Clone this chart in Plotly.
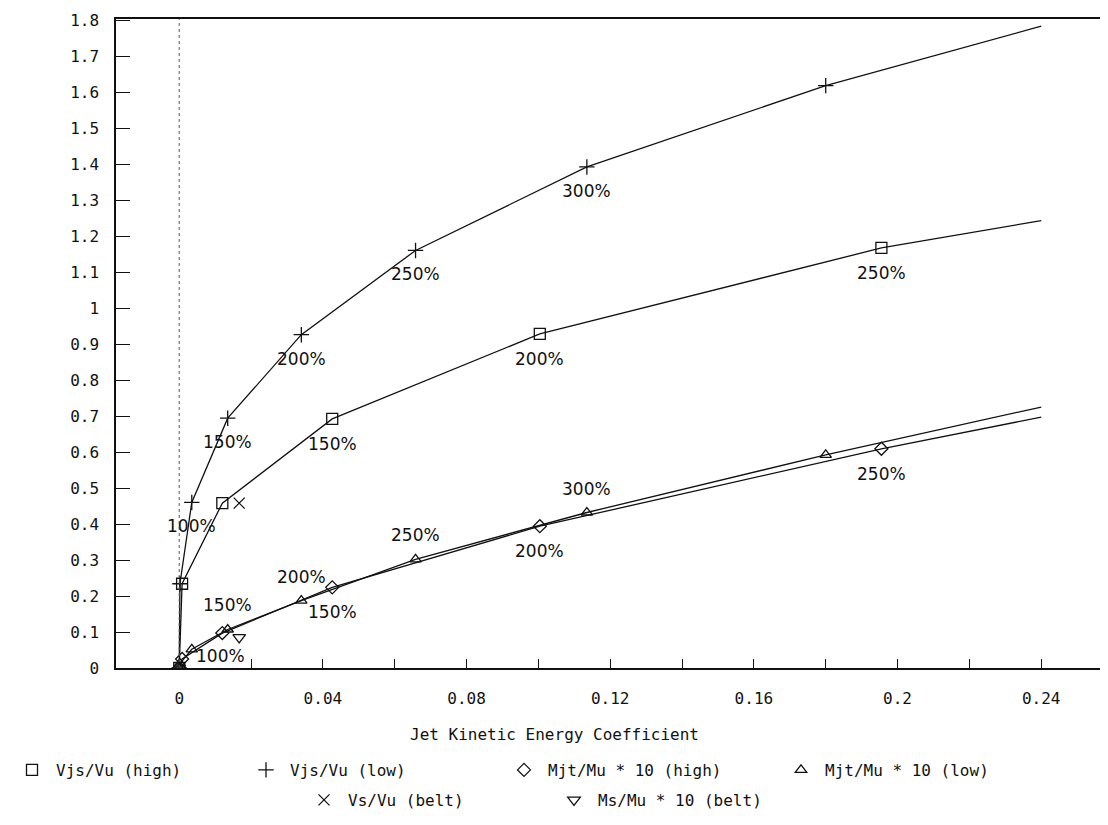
import plotly.graph_objects as go

# Jet kinetic energy coefficient (x) for the two test series
x_high = [0, 0.0008, 0.012, 0.0426, 0.1004, 0.1955, 0.24]
x_low = [0, 0.0002, 0.0035, 0.0135, 0.034, 0.0658, 0.1135, 0.18, 0.24]

vjs_high = [0, 0.234, 0.458, 0.692, 0.928, 1.167, 1.243]
mjt_high = [0, 0.025, 0.097, 0.224, 0.394, 0.609, 0.697]
vjs_low = [0, 0.234, 0.46, 0.694, 0.926, 1.16, 1.392, 1.618, 1.783]
mjt_low = [0, 0.012, 0.052, 0.107, 0.187, 0.302, 0.432, 0.592, 0.725]

x_belt = [0.0167]
vs_belt = [0.458]
ms_belt = [0.085]

# percentage labels at the points
lab_vjs_high = ["", "", "", "150%", "200%", "250%", ""]
lab_mjt_high = ["", "", "", "150%", "200%", "250%", ""]
lab_vjs_low = ["", "", "100%", "150%", "200%", "250%", "300%", "", ""]
lab_mjt_low = ["", "", "", "150%", "200%", "250%", "300%", "", ""]

FONT = "DejaVu Sans Mono"
LFONT = "DejaVu Sans"
INK = "#111111"
W, H = 1100, 817  # page body adds an 8px margin

fig = go.Figure()

series = [
    ("Vjs/Vu (high)", x_high, vjs_high, "square-open", 11),
    ("Vjs/Vu (low)", x_low, vjs_low, "cross-thin-open", 11),
    ("Mjt/Mu * 10 (high)", x_high, mjt_high, "diamond-open", 10),
    ("Mjt/Mu * 10 (low)", x_low, mjt_low, "triangle-up-open", 10),
]
for i, (name, xs, ys, sym, size) in enumerate(series):
    # line through all points (last point is the curve end, no marker)
    fig.add_trace(go.Scatter(x=xs, y=ys, mode="lines", line=dict(color=INK, width=1.3),
                             showlegend=False, hoverinfo="skip"))
    fig.add_trace(go.Scatter(x=xs[:-1], y=ys[:-1], mode="markers", name=name,
                             legend="legend" if i == 0 else f"legend{i + 1}",
                             marker=dict(symbol=sym, size=size, color=INK, line=dict(color=INK, width=1.3))))

fig.add_trace(go.Scatter(x=x_belt, y=vs_belt, mode="markers", name="Vs/Vu (belt)", legend="legend5",
                         marker=dict(symbol="x-thin-open", size=11, color=INK, line=dict(color=INK, width=1.3))))
fig.add_trace(go.Scatter(x=x_belt, y=ms_belt, mode="markers", name="Ms/Mu * 10 (belt)", legend="legend6",
                         marker=dict(symbol="triangle-down-open", size=11, color=INK, line=dict(color=INK, width=1.3))))

lab_font = dict(family=LFONT, size=17, color=INK)
for xs, ys, labs, shift in [(x_high, vjs_high, lab_vjs_high, -25),
                            (x_low, vjs_low, lab_vjs_low, -24),
                            (x_high, mjt_high, lab_mjt_high, -25),
                            (x_low, mjt_low, lab_mjt_low, 24)]:
    for xv, yv, t in zip(xs, ys, labs):
        if t:
            fig.add_annotation(x=xv, y=yv, text=t, showarrow=False, yshift=shift, font=lab_font)
fig.add_annotation(x=0.0115, y=0.032, text="100%", showarrow=False, font=lab_font)

# dotted line at x = 0
fig.add_shape(type="line", x0=0, x1=0, y0=0, y1=1, xref="x", yref="paper",
              line=dict(color="#555555", width=1, dash="dot"))

fig.add_annotation(x=0.444, y=-0.102, xref="paper", yref="paper", text="Jet Kinetic Energy Coefficient",
                   showarrow=False, font=dict(family=FONT, size=16, color=INK), yanchor="middle")

fig.update_xaxes(range=[-0.0176, 0.2572], dtick=0.04, tick0=0, ticks="inside", ticklen=9,
                 tickcolor=INK, showgrid=False, zeroline=False, showline=True, linecolor=INK,
                 linewidth=1.5, mirror=True, tickfont=dict(family=FONT, size=16, color=INK),
                 ticklabeloverflow="allow", ticklabelstandoff=15,
                 minor=dict(dtick=0.02, tick0=0, ticks="inside", ticklen=9, tickcolor=INK, showgrid=False))
fig.update_yaxes(range=[0, 1.803], dtick=0.1, tick0=0, ticks="inside", ticklen=14,
                 tickcolor=INK, showgrid=False, zeroline=False, showline=True, linecolor=INK,
                 linewidth=1.5, mirror=True, tickfont=dict(family=FONT, size=16, color=INK),
                 ticklabeloverflow="allow", ticklabelstandoff=12)

# legend entries placed one by one (symbol x in page pixels, row y in page pixels)
leg_pos = [(12, 770), (262, 770), (520, 770), (797, 770), (320, 800), (570, 800)]
legends = {}
for i, (px, py) in enumerate(leg_pos):
    key = "legend" if i == 0 else f"legend{i + 1}"
    legends[key] = dict(orientation="h", xref="container", yref="container",
                        x=max(0, (px - 8 - 20) / W), y=1 - (py - 8) / H, xanchor="left", yanchor="middle",
                        font=dict(family=FONT, size=16, color=INK), bgcolor="rgba(0,0,0,0)",
                        itemwidth=38)

fig.update_layout(
    width=W, height=H,
    margin=dict(l=108, r=3, t=5, b=157),
    paper_bgcolor="white", plot_bgcolor="white",
    showlegend=True,
    **legends,
)

fig.write_html("out.html")
